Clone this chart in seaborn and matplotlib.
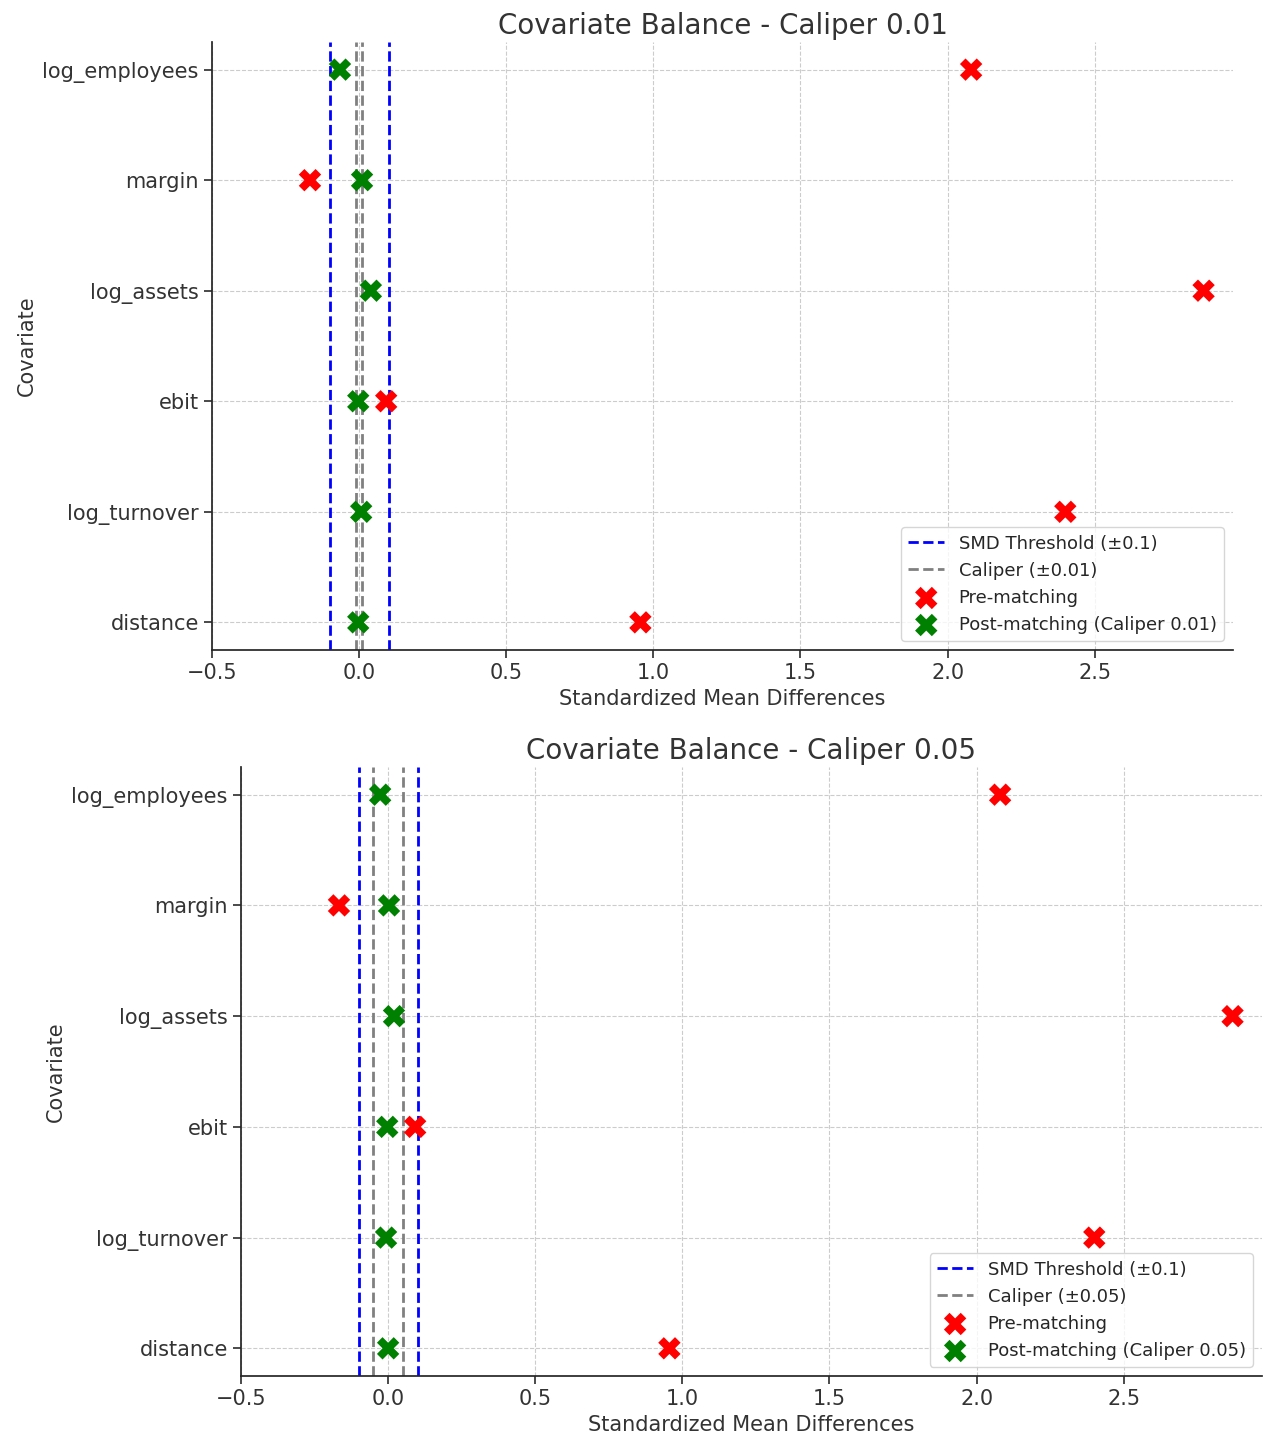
import numpy as np
import pandas as pd
import seaborn as sns
import matplotlib.pyplot as plt

COVARIATES = ["distance", "log_turnover", "ebit", "log_assets", "margin", "log_employees"]
PRE_SMD = [0.956, 2.40, 0.092, 2.87, -0.167, 2.08]
POST_SMD_001 = [-0.003, 0.007, -0.003, 0.04, 0.01, -0.065]
POST_SMD_005 = [0.0, -0.007, -0.003, 0.02, 0.003, -0.027]
CALIPERS = [0.01, 0.05]
SMD_THRESHOLD = 0.1

sns.set_theme(style="ticks")
plt.rcParams['font.family'] = ['DejaVu Sans']

W, H = 1263, 1435
fig = plt.figure(figsize=(W / 100, H / 100), dpi=100)
ax1 = fig.add_axes([212 / W, (H - 650) / H, 1021 / W, 608 / H])
ax2 = fig.add_axes([241 / W, (H - 1376) / H, 1021 / W, 609 / H])

for ax, cal, post in zip([ax1, ax2], CALIPERS, [POST_SMD_001, POST_SMD_005]):
    df = pd.DataFrame({"Covariate": COVARIATES, "pre": PRE_SMD, "post": post})
    ax.axvline(-SMD_THRESHOLD, color="blue", ls="--", lw=2, label="SMD Threshold (±0.1)")
    ax.axvline(SMD_THRESHOLD, color="blue", ls="--", lw=2)
    ax.axvline(-cal, color="gray", ls="--", lw=2, label=f"Caliper (±{cal})")
    ax.axvline(cal, color="gray", ls="--", lw=2)
    sns.scatterplot(data=df, x="pre", y="Covariate", ax=ax, color="red", marker="X",
                    s=260, edgecolor="none", label="Pre-matching", zorder=3)
    sns.scatterplot(data=df, x="post", y="Covariate", ax=ax, color="green", marker="X",
                    s=260, edgecolor="none", label=f"Post-matching (Caliper {cal})", zorder=4)
    ax.set_xlim(-0.5, 2.97)
    ax.set_ylim(-0.25, 5.25)
    ax.grid(True, ls="--", color="#cccccc", lw=0.8)
    ax.set_axisbelow(True)
    ax.set_title(f"Covariate Balance - Caliper {cal}", fontsize=20, color="#333333")
    ax.set_xlabel("Standardized Mean Differences", fontsize=15, color="#333333")
    ax.set_ylabel("Covariate", fontsize=15, color="#333333")
    ax.tick_params(labelsize=15, colors="#333333")
    ax.spines["top"].set_visible(False)
    ax.spines["right"].set_visible(False)
    ax.legend(loc="lower right", fontsize=13)

plt.savefig("out.png", dpi=100)
